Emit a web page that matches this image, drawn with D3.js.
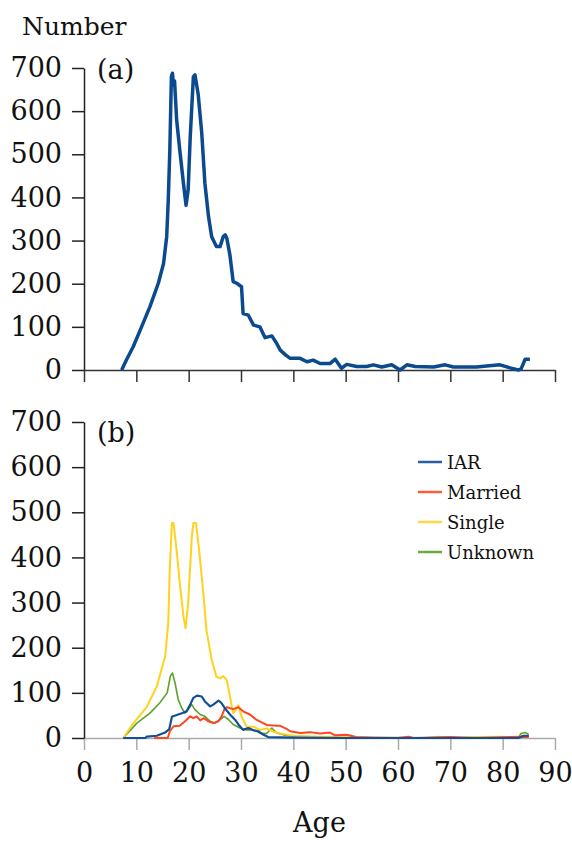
<!DOCTYPE html>
<html>
<head>
<meta charset="utf-8">
<script src="https://cdn.jsdelivr.net/npm/d3@7"></script>
<style>
  body { margin: 0; background: #fff; }
</style>
</head>
<body>
<div id="chart"></div>
<script>
// (a) all cases
const allAge = [7.2, 8.1, 9.4, 11.0, 12.6, 14.2, 15.2, 15.8, 16.1, 16.4, 16.7, 16.9, 17.1, 17.3, 17.7, 18.3, 19.0, 19.5, 19.9, 20.3, 20.9, 21.2, 21.8, 22.5, 23.1, 23.8, 24.4, 25.3, 26.0, 26.6, 27.0, 27.3, 27.9, 28.5, 29.2, 30.1, 30.4, 31.4, 32.4, 33.6, 34.6, 35.9, 36.8, 37.5, 38.5, 39.4, 41.3, 42.6, 43.8, 45.1, 47.0, 48.0, 49.2, 50.2, 52.1, 54.0, 55.3, 56.9, 58.8, 60.4, 61.7, 63.3, 66.8, 69.0, 70.6, 75.0, 76.9, 79.5, 81.4, 83.0, 83.5, 84.3, 85.2];
const allCount = [0, 23, 54, 100, 147, 201, 247, 309, 394, 510, 680, 688, 660, 670, 580, 510, 433, 382, 417, 541, 680, 684, 641, 549, 433, 355, 309, 286, 286, 309, 313, 305, 265, 205, 201, 193, 131, 127, 104, 100, 75, 79, 62, 46, 35, 27, 27, 19, 23, 15, 15, 25, 4, 13, 8, 8, 12, 7, 12, 0, 12, 8, 7, 12, 7, 7, 9, 12, 5, 0, 2, 25, 25];

// (b) by status
const iarAge = [7.5, 11.7, 12.0, 13.9, 15.5, 16.3, 16.8, 17.7, 18.7, 19.6, 20.3, 20.9, 21.6, 22.5, 23.1, 24.1, 24.7, 25.7, 26.3, 26.9, 27.9, 28.9, 29.5, 30.4, 31.4, 32.4, 33.3, 34.3, 35.2, 40, 50, 83, 84, 85];
const iarCount = [0, 0, 3, 5, 12, 20, 47, 51, 55, 59, 74, 89, 94, 92, 81, 70, 74, 83, 77, 66, 52, 40, 30, 18, 22, 17, 15, 7, 2, 1, 0, 0, 5, 5];

const marriedAge = [13.4, 16.0, 16.4, 17.1, 18.3, 19.3, 20.3, 20.9, 21.5, 22.2, 22.9, 23.8, 24.7, 25.7, 26.3, 26.8, 27.3, 28.5, 29.5, 30.4, 31.7, 33.0, 34.9, 36.8, 37.5, 38.7, 39.4, 41.3, 43.2, 45.1, 47.0, 48.0, 50.2, 52, 55, 60, 62, 63, 70, 75, 84, 85];
const marriedCount = [0, 0, 15, 26, 27, 37, 48, 44, 48, 39, 44, 37, 33, 37, 48, 63, 68, 64, 68, 59, 52, 40, 29, 27, 27, 20, 15, 11, 13, 10, 12, 6, 7, 2, 1, 0, 3, 0, 2, 0, 3, 2];

const singleAge = [7.5, 9.4, 12.0, 13.9, 15.5, 16.1, 16.4, 16.8, 17.1, 17.7, 18.3, 19.0, 19.4, 19.9, 20.6, 20.9, 21.4, 22.0, 22.8, 23.4, 24.4, 25.3, 26.0, 26.6, 27.3, 27.9, 28.5, 29.0, 29.5, 30.1, 31.1, 32.4, 33.6, 34.9, 36.2, 37.5, 40, 45, 50, 55, 60, 65, 68, 70, 75, 80, 82, 84, 85];
const singleCount = [0, 32, 69, 114, 180, 254, 379, 476, 476, 416, 343, 269, 243, 298, 446, 476, 476, 416, 321, 239, 173, 136, 132, 137, 128, 91, 55, 62, 73, 47, 25, 25, 18, 21, 14, 10, 5, 3, 2, 0, 1, 0, 3, 0, 2, 3, 0, 5, 3];

const unknownAge = [7.5, 10.1, 12.6, 14.5, 15.9, 16.5, 16.9, 17.4, 18.0, 18.7, 19.3, 19.9, 20.6, 21.2, 22.2, 23.1, 24.1, 25.0, 26.0, 26.8, 27.6, 28.5, 29.8, 31.1, 32.4, 33.6, 34.9, 35.9, 36.8, 38.1, 40, 45, 50, 55, 83, 83.5, 84.3, 85];
const unknownCount = [0, 33, 55, 78, 100, 137, 144, 122, 85, 66, 55, 63, 74, 63, 52, 48, 37, 33, 41, 48, 41, 30, 22, 18, 18, 11, 10, 22, 11, 7, 4, 2, 1, 0, 0, 10, 12, 8];

const yTicks = [0, 100, 200, 300, 400, 500, 600, 700];
const xTicks = [0, 10, 20, 30, 40, 50, 60, 70, 80, 90];
const legendNames = ["IAR", "Married", "Single", "Unknown"];

const width = 572;
const height = 843;
const left = 84, right = 555;
const serif = "'DejaVu Serif', 'Liberation Serif', serif";

const svg = d3.select('#chart')
  .append('svg')
  .attr('width', width)
  .attr('height', height)
  .style("font-family", serif);

const x = d3.scaleLinear().domain([0, 90]).range([left, right]);
const yA = d3.scaleLinear().domain([0, 700]).range([370, 68]);
const yB = d3.scaleLinear().domain([0, 700]).range([738, 422]);

function yAxis(g, y) {
  g.attr("transform", `translate(${left},0)`)
    .call(d3.axisLeft(y).tickValues(yTicks).tickSize(12).tickSizeOuter(0).tickPadding(10))
    .attr("font-size", "27px")
    .attr("font-family", serif);
  g.selectAll("text").attr("fill", "#111");
  g.selectAll("path, line").attr("stroke", "#222").attr("stroke-width", 1.5);
}

function xAxis(g, yPos, color, labels) {
  g.attr("transform", `translate(0,${yPos})`)
    .call(d3.axisBottom(x).tickValues(xTicks).tickSize(12).tickSizeOuter(0).tickPadding(13)
      .tickFormat(labels ? d3.format("d") : ""))
    .attr("font-size", "27px")
    .attr("font-family", serif);
  g.selectAll("text").attr("fill", "#111");
  g.selectAll("path, line").attr("stroke", color).attr("stroke-width", 1.5);
}

// panel (a)
svg.append("g").call(xAxis, 370, "#333", false);
svg.append("g").call(yAxis, yA);

const lineA = d3.line().x((d, i) => x(allAge[i])).y(d => yA(d));
svg.append("path")
  .datum(allCount)
  .attr("fill", "none")
  .attr("stroke", "#0b4a8e")
  .attr("stroke-width", 3.5)
  .attr("stroke-linejoin", "round")
  .attr("d", lineA);

// panel (b)
svg.append("g").call(xAxis, 738, "#aaa", true);
svg.append("g").call(yAxis, yB);

const series = [
  { name: "Unknown", ages: unknownAge, vals: unknownCount, color: "#5ba22c", w: 1.6 },
  { name: "Single", ages: singleAge, vals: singleCount, color: "#ffd21e", w: 2 },
  { name: "Married", ages: marriedAge, vals: marriedCount, color: "#ff4522", w: 2 },
  { name: "IAR", ages: iarAge, vals: iarCount, color: "#134f98", w: 2.2 }
];

series.forEach(s => {
  const line = d3.line().x((d, i) => x(s.ages[i])).y(d => yB(d));
  svg.append("path")
    .datum(s.vals)
    .attr("fill", "none")
    .attr("stroke", s.color)
    .attr("stroke-width", s.w)
    .attr("stroke-linejoin", "round")
    .attr("d", line);
});

// legend
const legendColor = { IAR: "#2a5fa8", Married: "#ff5a3a", Single: "#ffd845", Unknown: "#6aaa3e" };
const legend = svg.append("g").attr("transform", "translate(418,462)");
legendNames.forEach((n, i) => {
  const row = legend.append("g").attr("transform", `translate(0,${i * 30})`);
  row.append("line").attr("x1", 0).attr("x2", 24).attr("y1", 0).attr("y2", 0)
    .attr("stroke", legendColor[n]).attr("stroke-width", 2.5);
  row.append("text").attr("x", 29).attr("y", 7).attr("font-size", "18px")
    .attr("fill", "#111").text(n);
});

// labels
svg.append("text").attr("x", 22).attr("y", 35).attr("font-size", "25px").attr("fill", "#111").text("Number");
svg.append("text").attr("x", 97).attr("y", 79).attr("font-size", "27px").attr("fill", "#111").text("(a)");
svg.append("text").attr("x", 97).attr("y", 442).attr("font-size", "27px").attr("fill", "#111").text("(b)");
svg.append("text").attr("x", (left + right) / 2).attr("y", 832).attr("text-anchor", "middle")
  .attr("font-size", "27px").attr("fill", "#111").text("Age");
</script>
</body>
</html>
